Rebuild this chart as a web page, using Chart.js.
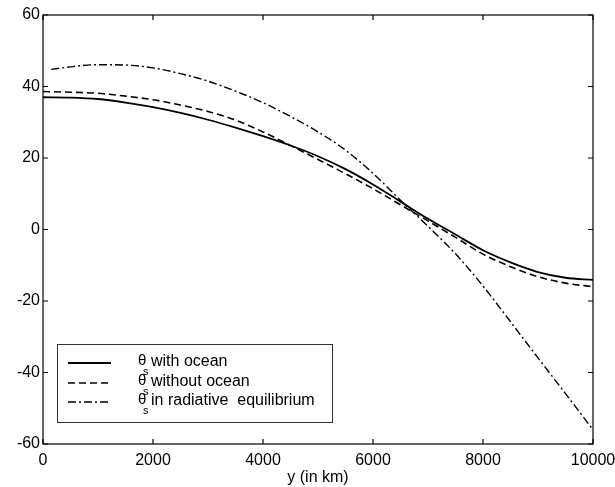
<!DOCTYPE html>
<html>
<head>
<meta charset="utf-8">
<script src="https://cdn.jsdelivr.net/npm/chart.js@4/dist/chart.umd.min.js"></script>
<style>
    html, body { margin: 0; padding: 0; background: #fff; }
    #wrap { width: 615px; height: 487px; }
</style>
</head>
<body>
<div id="wrap"><canvas id="chart"></canvas></div>
<script>
const distanceKm = [0, 500, 1000, 1500, 2000, 2500, 3000, 3500, 4000, 4500, 5000,
    5500, 6000, 6500, 7000, 7500, 8000, 8500, 9000, 9500, 10000];
const withOcean = [37.0, 36.9, 36.5, 35.5, 34.2, 32.6, 30.7, 28.5, 26.1, 23.5, 20.5,
    16.9, 12.6, 7.8, 3.0, -1.4, -5.8, -9.2, -11.9, -13.5, -14.1];
const withoutOcean = [38.6, 38.4, 38.1, 37.3, 36.3, 34.8, 33.0, 30.6, 27.3, 23.5, 19.6,
    15.6, 11.4, 6.9, 2.4, -2.2, -6.9, -10.4, -13.2, -15.0, -16.0];
const radiativeKm = [150, 500, 1000, 1500, 2000, 2500, 3000, 3500, 4000, 4500, 5000,
    5500, 6000, 6500, 7000, 7500, 8000, 8500, 9000, 9500, 10000];
const radiative = [44.8, 45.5, 46.1, 46.0, 45.2, 43.6, 41.5, 38.7, 35.5, 31.6, 27.3,
    22.2, 15.7, 8.2, 0.9, -6.8, -15.8, -25.8, -35.9, -45.9, -56.0];
const legendLabels = ["with ocean", "without ocean", "in radiative  equilibrium"];
const xTicks = [0, 2000, 4000, 6000, 8000, 10000];
const yTicks = [-60, -40, -20, 0, 20, 40, 60];

const FONT = "'Liberation Sans', Arial, Helvetica, sans-serif";

function toPoints(xs, ys) {
    return xs.map((x, i) => ({ x: x, y: ys[i] }));
}

// box round the plot area with inward ticks on all four sides
const frameTicks = {
    id: "frameTicks",
    afterDatasetsDraw(chart) {
        const ctx = chart.ctx;
        const area = chart.chartArea;
        const xs = chart.scales.x;
        const ys = chart.scales.y;
        ctx.save();
        ctx.strokeStyle = "#000";
        ctx.lineWidth = 1.2;
        ctx.strokeRect(area.left, area.top, area.right - area.left, area.bottom - area.top);
        ctx.beginPath();
        xTicks.forEach((v) => {
            const px = xs.getPixelForValue(v);
            ctx.moveTo(px, area.bottom);
            ctx.lineTo(px, area.bottom - 5);
            ctx.moveTo(px, area.top);
            ctx.lineTo(px, area.top + 5);
        });
        yTicks.forEach((v) => {
            const py = ys.getPixelForValue(v);
            ctx.moveTo(area.left, py);
            ctx.lineTo(area.left + 5, py);
            ctx.moveTo(area.right, py);
            ctx.lineTo(area.right - 5, py);
        });
        ctx.stroke();
        ctx.restore();
    }
};

const boxLegend = {
    id: "boxLegend",
    afterDraw(chart) {
        const ctx = chart.ctx;
        const box = { left: 57, top: 344, right: 332, bottom: 422 };
        const rows = [363, 383, 402];
        ctx.save();
        ctx.fillStyle = "#fff";
        ctx.fillRect(box.left, box.top, box.right - box.left, box.bottom - box.top);
        ctx.strokeStyle = "#333";
        ctx.lineWidth = 1;
        ctx.strokeRect(box.left + 0.5, box.top + 0.5, box.right - box.left, box.bottom - box.top);

        chart.data.datasets.forEach((ds, i) => {
            const y = rows[i];
            ctx.strokeStyle = "#000";
            ctx.lineWidth = ds.borderWidth;
            ctx.setLineDash(ds.borderDash || []);
            ctx.beginPath();
            ctx.moveTo(68, y);
            ctx.lineTo(111, y);
            ctx.stroke();
            ctx.setLineDash([]);

            ctx.fillStyle = "#000";
            ctx.textBaseline = "middle";
            ctx.font = "15px " + FONT;
            ctx.fillText("\u03b8", 138, y - 2);
            ctx.font = "11px " + FONT;
            ctx.fillText("s", 143, y + 9);
            ctx.font = "16px " + FONT;
            ctx.fillText(legendLabels[i], 151, y - 1);
        });
        ctx.restore();
    }
};

new Chart(document.getElementById("chart"), {
    type: "line",
    data: {
        datasets: [
            {
                label: legendLabels[0],
                data: toPoints(distanceKm, withOcean),
                borderColor: "#000",
                borderWidth: 1.8,
                pointRadius: 0,
                tension: 0.4,
                cubicInterpolationMode: "monotone"
            },
            {
                label: legendLabels[1],
                data: toPoints(distanceKm, withoutOcean),
                borderColor: "#000",
                borderWidth: 1.6,
                borderDash: [7, 4],
                pointRadius: 0,
                tension: 0.4,
                cubicInterpolationMode: "monotone"
            },
            {
                label: legendLabels[2],
                data: toPoints(radiativeKm, radiative),
                borderColor: "#000",
                borderWidth: 1.4,
                borderDash: [8, 3, 2, 3],
                pointRadius: 0,
                tension: 0.4,
                cubicInterpolationMode: "monotone"
            }
        ]
    },
    options: {
        responsive: true,
        maintainAspectRatio: false,
        animation: false,
        layout: { padding: { top: 15, right: 22, left: 0, bottom: 0 } },
        plugins: {
            legend: { display: false },
            tooltip: { enabled: false }
        },
        scales: {
            x: {
                type: "linear",
                min: 0,
                max: 10000,
                afterBuildTicks: (scale) => {
                    scale.ticks = xTicks.map((v) => ({ value: v }));
                },
                afterFit: (scale) => {
                    scale.height = 43;
                    scale.paddingLeft = 0;
                    scale.paddingRight = 0;
                },
                ticks: {
                    color: "#000",
                    font: { family: FONT, size: 16 },
                    padding: 7,
                    maxRotation: 0,
                    autoSkip: false,
                    callback: (v) => String(v)
                },
                grid: { display: false, drawTicks: false, tickLength: 0 },
                border: { display: false },
                title: {
                    display: true,
                    text: "y (in km)",
                    color: "#000",
                    font: { family: FONT, size: 16 },
                    padding: { top: 0, bottom: 0 }
                }
            },
            y: {
                type: "linear",
                min: -60,
                max: 60,
                afterBuildTicks: (scale) => {
                    scale.ticks = yTicks.map((v) => ({ value: v }));
                },
                afterFit: (scale) => {
                    scale.width = 43;
                    scale.paddingTop = 0;
                    scale.paddingBottom = 0;
                },
                ticks: {
                    color: "#000",
                    font: { family: FONT, size: 16 },
                    padding: 3,
                    autoSkip: false
                },
                grid: { display: false, drawTicks: false, tickLength: 0 },
                border: { display: false }
            }
        }
    },
    plugins: [frameTicks, boxLegend]
});
</script>
</body>
</html>
